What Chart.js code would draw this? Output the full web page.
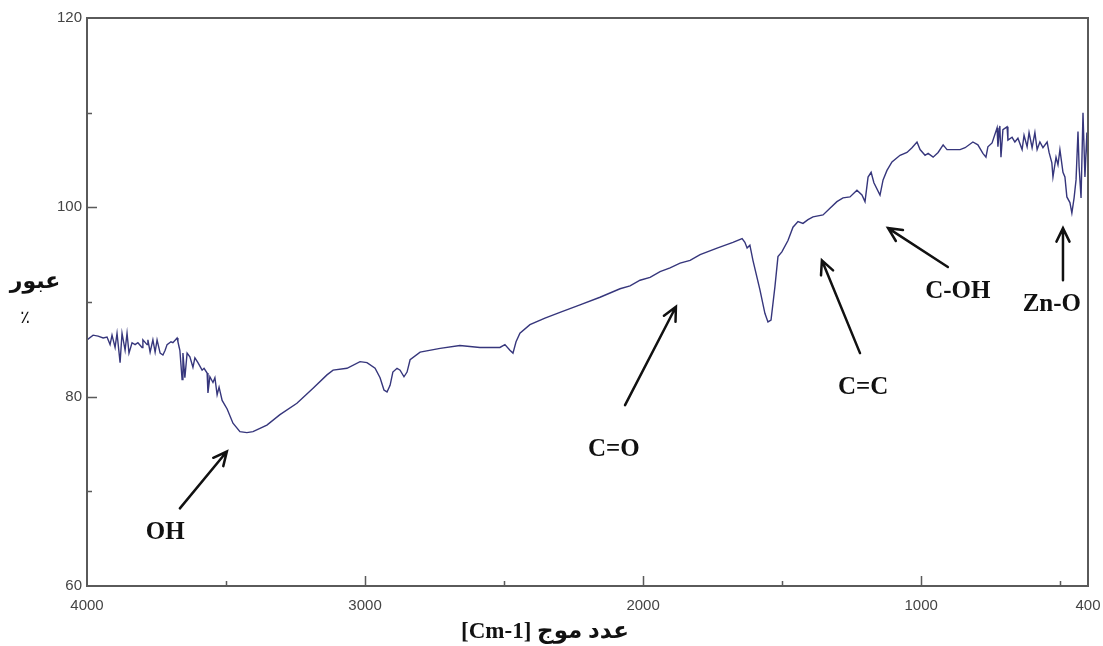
<!DOCTYPE html>
<html>
<head>
<meta charset="utf-8">
<title>FTIR</title>
<script src="https://cdn.jsdelivr.net/npm/chart.js@4.4.1/dist/chart.umd.min.js"></script>
<style>
  html, body { margin: 0; padding: 0; background: #fff; }
  #ftir { display: block; }
</style>
</head>
<body>
<canvas id="ftir" width="1103" height="646"></canvas>
<script>
// wavenumber (cm-1)
var waveNumbers = [
  4000, 3978, 3960, 3942, 3928, 3917, 3910, 3899, 3892, 3881, 3874, 3863, 3856, 3849, 3838,
  3827, 3817, 3802, 3799, 3784, 3781, 3773, 3763, 3755, 3748, 3737, 3727, 3719, 3712, 3698,
  3691, 3676, 3673, 3666, 3658, 3655, 3648, 3640, 3630, 3619, 3612, 3601, 3586, 3579, 3568,
  3565, 3558, 3547, 3540, 3532, 3525, 3514, 3496, 3475, 3450, 3425, 3403, 3353, 3306, 3245,
  3187, 3137, 3115, 3065, 3018, 2993, 2964, 2946, 2932, 2921, 2910, 2900, 2885, 2874, 2860,
  2849, 2838, 2802, 2730, 2659, 2587, 2515, 2497, 2479, 2468, 2457, 2443, 2407, 2353, 2299,
  2227, 2155, 2083, 2047, 2011, 1975, 1939, 1903, 1867, 1831, 1795, 1734, 1677, 1644, 1634,
  1626, 1616, 1605, 1580, 1562, 1551, 1540, 1526, 1515, 1501, 1479, 1461, 1443, 1425, 1407,
  1389, 1353, 1328, 1303, 1281, 1256, 1231, 1213, 1202, 1191, 1180, 1170, 1148, 1137, 1123,
  1105, 1076, 1051, 1033, 1015, 1004, 986, 975, 957, 939, 921, 907, 886, 860, 842,
  814, 796, 778, 767, 760, 745, 727, 724, 717, 713, 706, 691, 688, 673, 663,
  652, 637, 630, 619, 612, 601, 591, 583, 573, 562, 547, 540, 530, 526, 515,
  508, 501, 490, 483, 476, 465, 458, 450, 443, 436, 432, 425, 418, 411, 404, 400
];
// transmittance (%)
var transmittance = [
  86.0, 86.5, 86.4, 86.2, 86.3, 85.5, 86.5, 85.2, 86.7, 83.6, 86.7, 84.9, 86.7, 84.6, 85.7,
  85.5, 85.7, 85.2, 86.0, 85.5, 86.0, 84.7, 86.0, 84.7, 86.0, 84.6, 84.4, 84.9, 85.5, 85.8,
  85.7, 86.2, 85.8, 84.9, 81.8, 84.6, 82.0, 84.6, 84.2, 83.1, 84.1, 83.6, 82.8, 83.0, 82.5,
  80.4, 82.1, 81.5, 82.0, 80.2, 81.0, 79.6, 78.7, 77.2, 76.3, 76.2, 76.3, 77.0, 78.1, 79.3,
  80.9, 82.3, 82.8, 83.0, 83.7, 83.6, 83.0, 82.0, 80.7, 80.5, 81.2, 82.6, 83.0, 82.8, 82.1,
  82.6, 83.9, 84.7, 85.1, 85.4, 85.2, 85.2, 85.5, 84.9, 84.6, 85.8, 86.7, 87.6, 88.3, 88.9,
  89.7, 90.5, 91.4, 91.7, 92.3, 92.6, 93.2, 93.6, 94.1, 94.4, 95.0, 95.7, 96.3, 96.7, 96.3,
  95.7, 96.0, 94.4, 91.3, 88.8, 87.9, 88.1, 91.6, 94.8, 95.3, 96.5, 97.9, 98.5, 98.3, 98.7,
  99.0, 99.2, 99.9, 100.6, 101.0, 101.1, 101.8, 101.3, 100.6, 103.2, 103.7, 102.6, 101.3, 102.9, 103.9,
  104.8, 105.5, 105.8, 106.3, 106.9, 106.1, 105.5, 105.7, 105.3, 105.8, 106.6, 106.1, 106.1, 106.1, 106.3,
  106.9, 106.6, 105.7, 105.3, 106.4, 106.8, 108.4, 106.4, 108.6, 105.3, 108.2, 108.5, 107.1, 107.4, 106.9,
  107.3, 106.1, 107.6, 106.4, 107.9, 106.3, 107.9, 106.1, 106.9, 106.3, 106.9, 105.8, 104.7, 103.2, 105.3,
  104.5, 106.1, 103.7, 103.2, 101.1, 100.5, 99.4, 101.0, 102.9, 108.0, 104.3, 101.0, 110.0, 103.2, 107.9, 104.3
];

var xTicks = [4000, 3500, 3000, 2500, 2000, 1500, 1000, 500, 400];
var xLabels = [4000, 3000, 2000, 1000, 400];
var xMajor = [3000, 2000, 1000];
var yTicks = [60, 70, 80, 90, 100, 110, 120];
var yLabels = [60, 80, 100, 120];
var yMajor = [80, 100];

// band labels: text position and arrow tail/head, in axis units
var bands = [
  { text: "OH",   at: [3719, 65.6], from: [3666, 68.2], to: [3497, 74.2] },
  { text: "C=O",  at: [2105, 74.4], from: [2065, 79.1], to: [1882, 89.5] },
  { text: "C=C",  at: [1209, 81.0], from: [1220, 84.6], to: [1357, 94.4] },
  { text: "C-OH", at: [868, 91.1],  from: [904, 93.7],  to: [1119, 97.8] },
  { text: "Zn-O", at: [530, 89.7],  from: [490, 92.3],  to: [490, 97.8] }
];

var points = waveNumbers.map(function (w, i) { return { x: w, y: transmittance[i] }; });

function arrow(ctx, x1, y1, x2, y2) {
  var a = Math.atan2(y2 - y1, x2 - x1), h = 15, s = 0.45;
  ctx.beginPath();
  ctx.moveTo(x1, y1);
  ctx.lineTo(x2, y2);
  ctx.moveTo(x2 - h * Math.cos(a - s), y2 - h * Math.sin(a - s));
  ctx.lineTo(x2, y2);
  ctx.lineTo(x2 - h * Math.cos(a + s), y2 - h * Math.sin(a + s));
  ctx.stroke();
}

var frame = {
  id: "frame",
  afterDraw: function (chart) {
    var ctx = chart.ctx, a = chart.chartArea;
    var xs = chart.scales.x, ys = chart.scales.y;
    ctx.save();
    ctx.strokeStyle = "#5a5a5a";
    ctx.lineWidth = 2;
    ctx.strokeRect(a.left, a.top, a.right - a.left, a.bottom - a.top);
    ctx.lineWidth = 1.5;
    ctx.beginPath();
    xTicks.forEach(function (v) {
      if (v === 4000 || v === 400) return;
      var px = Math.round(xs.getPixelForValue(v)) + 0.5;
      var len = xMajor.indexOf(v) >= 0 ? 10 : 5;
      ctx.moveTo(px, a.bottom);
      ctx.lineTo(px, a.bottom - len);
    });
    yTicks.forEach(function (v) {
      if (v === 60 || v === 120) return;
      var py = Math.round(ys.getPixelForValue(v)) + 0.5;
      var len = yMajor.indexOf(v) >= 0 ? 10 : 5;
      ctx.moveTo(a.left, py);
      ctx.lineTo(a.left + len, py);
    });
    ctx.stroke();

    // axis titles
    ctx.fillStyle = "#111";
    ctx.textAlign = "center";
    ctx.textBaseline = "middle";
    ctx.direction = "rtl";
    ctx.font = 'bold 23px "Liberation Serif", "DejaVu Sans", serif';
    ctx.fillText("عدد موج [Cm-1]", xs.getPixelForValue(2353), a.bottom + 46);
    ctx.font = 'bold 22px "DejaVu Sans", "Liberation Sans", sans-serif';
    ctx.fillText("عبور", 35, ys.getPixelForValue(92.1));
    ctx.font = '18px "DejaVu Sans", sans-serif';
    ctx.fillText("٪", 25, ys.getPixelForValue(88.3));
    ctx.direction = "ltr";

    // band annotations
    ctx.strokeStyle = "#111";
    ctx.lineWidth = 2.5;
    ctx.lineCap = "round";
    ctx.font = 'bold 25px "Liberation Serif", "Times New Roman", serif';
    bands.forEach(function (b) {
      ctx.fillText(b.text, xs.getPixelForValue(b.at[0]), ys.getPixelForValue(b.at[1]));
      arrow(ctx,
        xs.getPixelForValue(b.from[0]), ys.getPixelForValue(b.from[1]),
        xs.getPixelForValue(b.to[0]), ys.getPixelForValue(b.to[1]));
    });
    ctx.restore();
  }
};

new Chart(document.getElementById("ftir"), {
  type: "line",
  data: {
    datasets: [{
      label: "Transmittance",
      data: points,
      borderColor: "#36367c",
      borderWidth: 1.4,
      pointRadius: 0,
      tension: 0,
      fill: false
    }]
  },
  options: {
    responsive: false,
    animation: false,
    layout: { padding: { top: 18, right: 15, left: 0, bottom: 0 } },
    plugins: { legend: { display: false }, tooltip: { enabled: false } },
    scales: {
      x: {
        type: "linear",
        reverse: true,
        min: 400,
        max: 4000,
        grid: { display: false, drawTicks: false },
        border: { display: false },
        afterBuildTicks: function (s) { s.ticks = xTicks.map(function (v) { return { value: v }; }); },
        afterFit: function (s) { s.height = 60; s.paddingLeft = 0; s.paddingRight = 0; },
        ticks: {
          autoSkip: false,
          maxRotation: 0,
          padding: 11,
          color: "#444",
          font: { family: '"Liberation Sans", Arial, sans-serif', size: 15 },
          callback: function (v) { return xLabels.indexOf(v) >= 0 ? String(v) : ""; }
        }
      },
      y: {
        min: 60,
        max: 120,
        grid: { display: false, drawTicks: false },
        border: { display: false },
        afterBuildTicks: function (s) { s.ticks = yTicks.map(function (v) { return { value: v }; }); },
        afterFit: function (s) { s.width = 87; s.paddingTop = 0; s.paddingBottom = 0; },
        ticks: {
          padding: 5,
          color: "#444",
          font: { family: '"Liberation Sans", Arial, sans-serif', size: 15 },
          callback: function (v) { return yLabels.indexOf(v) >= 0 ? String(v) : ""; }
        }
      }
    }
  },
  plugins: [frame]
});
</script>
</body>
</html>
